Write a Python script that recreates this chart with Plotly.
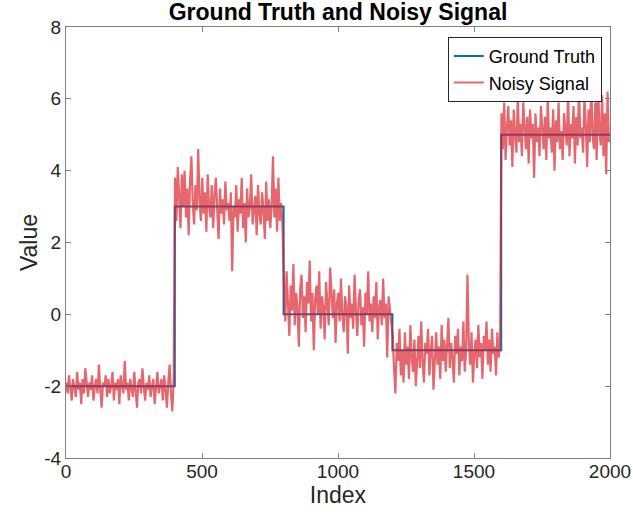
import numpy as np
import plotly.graph_objects as go

# Ground truth step levels
truth_x = [0, 400, 800, 1200, 1600, 2000]
truth_y = [-2, 3, 0, -1, 5, 5]

seg1 = [-1.9,-2.2,-1.7,-2.1,-2.4,-1.8,-2.0,-2.3,-1.6,-2.1,-1.9,-2.5,-1.8,-2.2,-1.5,-2.0,-2.3,-1.9,-2.1,-1.7,
        -2.4,-2.0,-1.8,-2.2,-1.4,-2.1,-2.6,-1.9,-2.0,-1.7,-2.3,-1.8,-2.2,-2.0,-1.6,-2.4,-1.9,-2.1,-1.8,-2.5,
        -1.7,-2.0,-2.2,-1.3,-2.1,-1.9,-2.4,-1.8,-2.0,-2.3,-1.6,-2.1,-2.6,-1.9,-1.8,-2.2,-1.5,-2.0,-2.4,-1.9,
        -2.1,-1.7,-2.3,-2.0,-1.8,-2.5,-1.9,-1.6,-2.2,-2.0,-1.8,-2.4,-1.7,-2.1,-2.6,-1.9,-1.4,-2.2,-2.7,-1.8]
seg2 = [3.8,2.6,4.1,3.3,2.4,3.9,3.0,4.0,2.7,3.5,2.2,3.7,4.4,3.1,2.5,3.6,2.9,4.6,3.2,2.6,
        3.8,2.8,3.4,2.3,3.9,3.0,2.7,3.6,2.4,3.3,3.8,2.9,2.1,3.5,2.8,3.2,2.5,3.7,2.9,3.1,
        2.6,3.4,1.2,3.0,2.7,3.6,2.3,3.2,2.8,3.8,2.4,3.1,2.0,3.5,2.7,3.0,3.9,2.5,2.9,3.3,
        2.2,3.6,2.8,2.5,3.4,2.9,2.1,3.7,2.6,3.2,2.4,3.0,4.4,2.7,3.5,2.3,3.8,2.6,3.1,2.5]
seg3 = [0.9,-0.2,1.2,0.4,-0.6,0.8,0.1,1.4,-0.3,0.6,0.2,-0.9,0.7,1.1,-0.1,0.5,-0.5,0.9,0.3,1.5,
        -0.2,0.6,-1.0,0.4,0.8,0.0,1.2,-0.4,0.5,0.2,-0.7,0.9,0.1,-0.3,1.3,0.4,-0.1,0.7,-0.8,0.3,
        0.6,-0.2,1.0,0.0,-0.5,0.5,0.2,-1.1,0.8,-0.1,0.3,-0.4,1.1,0.1,-0.6,0.4,0.7,-0.3,0.2,-0.9,
        0.6,0.0,1.2,-0.2,0.3,-0.5,0.5,-0.1,0.9,-0.7,0.2,0.4,-0.3,1.0,-0.1,0.3,-1.2,0.5,0.1,-0.4]
seg4 = [-0.6,-1.5,-2.2,-0.8,-1.3,-0.4,-1.7,-1.0,-1.9,-0.5,-1.4,-0.9,-1.8,-0.3,-1.2,-1.6,-0.7,-2.0,-1.1,-0.6,
        -1.5,-0.2,-1.3,-1.9,-0.8,-1.1,-0.4,-1.7,-1.0,-0.6,-2.1,-1.2,-0.5,-1.4,-0.9,-1.8,-0.3,-1.3,-0.7,-1.6,
        -1.0,-0.1,-1.5,-0.8,-1.2,-1.9,-0.6,-1.1,-0.4,-1.7,-0.9,-1.3,-0.2,-1.6,-1.0,1.1,-0.8,-1.4,-0.5,-1.9,
        -1.1,-0.7,-1.5,-0.3,-1.2,-0.8,-1.8,-0.6,-1.0,-0.2,-1.4,-0.7,-1.6,-0.4,-1.1,-0.9,-1.7,-0.5,-1.2,-0.8]
seg5 = [5.6,4.6,5.9,4.3,5.2,5.8,4.7,5.4,4.1,5.7,5.0,4.5,6.1,4.8,5.3,4.4,5.9,5.1,4.6,5.5,
        4.2,5.7,4.9,5.3,3.8,5.6,4.8,5.2,4.4,5.8,5.0,4.6,5.5,4.3,6.0,4.9,5.2,4.5,5.7,4.0,
        5.4,4.8,5.9,4.6,5.1,4.3,5.6,5.0,4.7,6.2,4.4,5.3,4.9,5.8,4.2,5.5,4.7,6.3,4.9,5.2,
        4.5,6.0,5.3,4.1,5.7,4.8,6.4,5.0,4.6,5.9,4.3,6.6,5.1,4.7,6.1,4.4,5.6,3.9,6.2,4.8]
noisy_y = seg1 + seg2 + seg3 + seg4 + seg5
noisy_x = list(range(1, 2001, 5))

x_ticks = [0, 500, 1000, 1500, 2000]
y_ticks = [-4, -2, 0, 2, 4, 6, 8]
y_ticklabels = ["-4", "-2", "0", "2", "4", "6", "8"]

font_family = "Liberation Sans, Arial, Helvetica, sans-serif"

fig = go.Figure()
fig.add_trace(go.Scatter(x=truth_x, y=truth_y, mode="lines", name="Ground Truth",
                         line=dict(color="#0072BD", width=2, shape="hv")))
fig.add_trace(go.Scatter(x=noisy_x, y=noisy_y, mode="lines", name="Noisy Signal",
                         line=dict(color="rgba(218,30,42,0.68)", width=2.2)))

axis_common = dict(showline=True, mirror="ticks", linecolor="#808080", linewidth=1,
                   ticks="inside", ticklen=5, tickcolor="#808080",
                   showgrid=False, zeroline=False, automargin=False,
                   tickfont=dict(size=19, color="#262626", family=font_family),
                   title_font=dict(size=23, color="#262626", family=font_family))

fig.update_layout(
    width=633, height=516,
    margin=dict(l=66, r=23, t=27, b=58),
    paper_bgcolor="white", plot_bgcolor="white",
    title=dict(text="<b>Ground Truth and Noisy Signal</b>", x=0.5, xref="paper",
               xanchor="center", y=1 - 12 / 516, yref="container", yanchor="middle",
               font=dict(size=23, color="black", family=font_family)),
    showlegend=True,
    legend=dict(x=0.985, y=0.977, xanchor="right", yanchor="top",
                bgcolor="white", bordercolor="#262626", borderwidth=1,
                font=dict(size=18, color="black", family=font_family),
                tracegroupgap=0),
    xaxis=dict(range=[0, 2000], tickvals=x_ticks, ticklabelstandoff=-4,
               title=dict(text="Index", standoff=5), **axis_common),
    yaxis=dict(range=[-4, 8], tickvals=y_ticks, ticktext=y_ticklabels,
               title=dict(text="Value", standoff=0), **axis_common),
)

fig.write_html("out.html", config={"displayModeBar": False},
               post_script="document.body.style.margin='0';")
